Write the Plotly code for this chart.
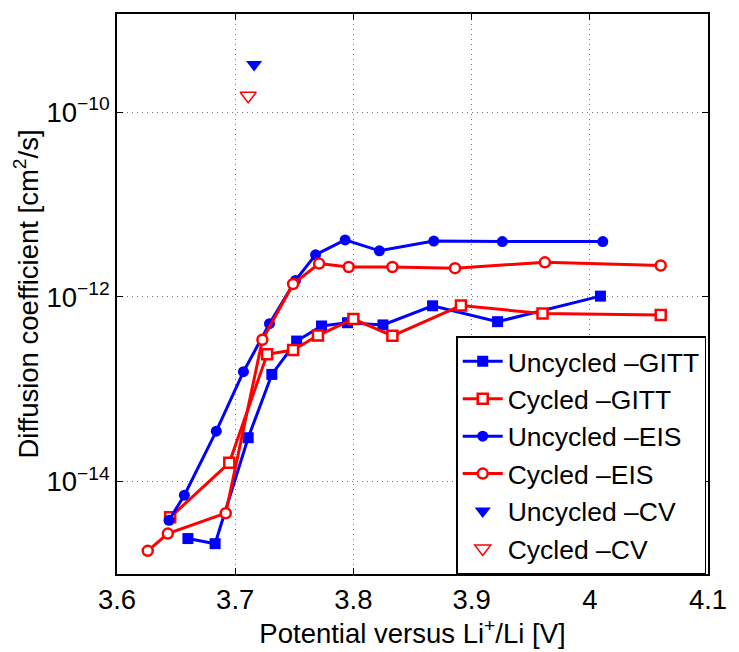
import plotly.graph_objects as go

# ---- data ----
ugitt_x = [3.660, 3.683, 3.711, 3.731, 3.752, 3.773, 3.795, 3.825, 3.867, 3.922, 4.009]
ugitt_y = [2.42e-15, 2.13e-15, 2.99e-14, 1.45e-13, 3.33e-13, 4.85e-13, 5.26e-13, 4.98e-13, 8.02e-13, 5.40e-13, 1.02e-12]

cgitt_x = [3.645, 3.695, 3.727, 3.749, 3.770, 3.800, 3.833, 3.891, 3.960, 4.060]
cgitt_y = [4.11e-15, 1.60e-14, 2.39e-13, 2.66e-13, 3.82e-13, 5.77e-13, 3.79e-13, 8.07e-13, 6.62e-13, 6.37e-13]

ueis_x = [3.644, 3.657, 3.684, 3.707, 3.729, 3.751, 3.768, 3.793, 3.822, 3.868, 3.926, 4.011]
ueis_y = [3.82e-15, 7.14e-15, 3.52e-14, 1.55e-13, 5.14e-13, 1.51e-12, 2.86e-12, 4.15e-12, 3.16e-12, 4.03e-12, 3.98e-12, 3.98e-12]

ceis_x = [3.626, 3.643, 3.692, 3.723, 3.749, 3.771, 3.796, 3.833, 3.886, 3.962, 4.060]
ceis_y = [1.78e-15, 2.74e-15, 4.55e-15, 3.44e-13, 1.38e-12, 2.30e-12, 2.11e-12, 2.11e-12, 2.05e-12, 2.37e-12, 2.19e-12]

ucv_x = [3.716]
ucv_y = [3.29e-10]
ccv_x = [3.711]
ccv_y = [1.51e-10]

y_tickvals = [1e-14, 1e-12, 1e-10]
y_ticktext = ["10<sup>\u221214</sup>", "10<sup>\u221212</sup>", "10<sup>\u221210</sup>"]
x_tickvals = [3.6, 3.7, 3.8, 3.9, 4.0, 4.1]
x_ticktext = ["3.6", "3.7", "3.8", "3.9", "4", "4.1"]

BLUE = "#0000ff"
RED = "#ff0000"
FONT = "Liberation Sans"
FS = 27.5
LFS = 26.5

fig = go.Figure()
fig.add_trace(go.Scatter(x=ugitt_x, y=ugitt_y, mode="lines+markers", name="Uncycled \u2013GITT",
                         line=dict(color=BLUE, width=3),
                         marker=dict(symbol="square", size=11, color=BLUE)))
fig.add_trace(go.Scatter(x=cgitt_x, y=cgitt_y, mode="lines+markers", name="Cycled \u2013GITT",
                         line=dict(color=RED, width=3),
                         marker=dict(symbol="square", size=10, color="white", line=dict(color=RED, width=2.5))))
fig.add_trace(go.Scatter(x=ueis_x, y=ueis_y, mode="lines+markers", name="Uncycled \u2013EIS",
                         line=dict(color=BLUE, width=3),
                         marker=dict(symbol="circle", size=11, color=BLUE)))
fig.add_trace(go.Scatter(x=ceis_x, y=ceis_y, mode="lines+markers", name="Cycled \u2013EIS",
                         line=dict(color=RED, width=3),
                         marker=dict(symbol="circle", size=10, color="white", line=dict(color=RED, width=2.5))))
fig.add_trace(go.Scatter(x=ucv_x, y=ucv_y, mode="markers", name="Uncycled \u2013CV",
                         marker=dict(symbol="triangle-down", size=14, color=BLUE)))
fig.add_trace(go.Scatter(x=ccv_x, y=ccv_y, mode="markers", name="Cycled \u2013CV",
                         marker=dict(symbol="triangle-down-open", size=14, color=RED, line=dict(width=1.5))))

fig.update_layout(
    width=739, height=652,
    margin=dict(l=117, r=20, t=14, b=72),
    paper_bgcolor="white", plot_bgcolor="white",
    font=dict(family=FONT, size=FS, color="black"),
    showlegend=True,
    legend=dict(x=0.997, y=0.0, xanchor="right", yanchor="bottom",
                bgcolor="white", bordercolor="black", borderwidth=1.5,
                font=dict(family=FONT, size=LFS), itemwidth=40,
                tracegroupgap=0),
)
fig.update_xaxes(range=[3.6, 4.1], tickvals=x_tickvals, ticktext=x_ticktext,
                 showline=True, linecolor="black", linewidth=1.5, mirror="ticks",
                 ticks="inside", ticklen=6, tickcolor="black",
                 showgrid=True, gridcolor="#777777", gridwidth=1, griddash="1px,4px",
                 zeroline=False,
                 title=dict(text="Potential versus Li<sup>+</sup>/Li [V]", font=dict(size=FS), standoff=6))
fig.update_yaxes(type="log", range=[-15.0, -8.936], tickvals=y_tickvals, ticktext=y_ticktext,
                 showline=True, linecolor="black", linewidth=1.5, mirror="ticks",
                 ticks="inside", ticklen=6, tickcolor="black",
                 showgrid=True, gridcolor="#777777", gridwidth=1, griddash="1px,4px",
                 zeroline=False,
                 title=dict(text="Diffusion coefficient [cm<sup>2</sup>/s]", font=dict(size=FS), standoff=0))

fig.write_html("out.html")
